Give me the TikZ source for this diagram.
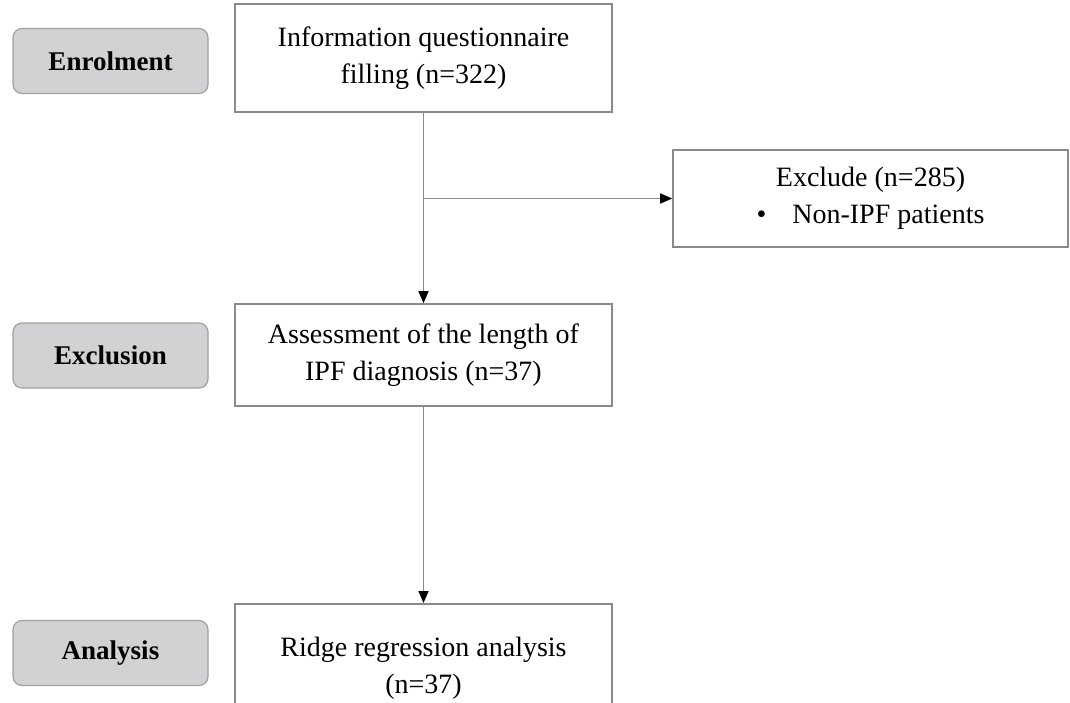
\documentclass[tikz,border=0pt]{standalone}
\usepackage{fontspec}
\setmainfont{Liberation Serif}
\usetikzlibrary{arrows.meta}
\definecolor{edgegray}{HTML}{8A8A8A}
\definecolor{stagefill}{HTML}{D2D1D3}
\tikzset{
  flowbox/.style={draw=edgegray, line width=1.6pt, fill=white, align=center,
    minimum width=377pt, inner sep=0pt, font=\fontsize{28}{37}\selectfont},
  stagebox/.style={draw=edgegray!80, line width=1.2pt, fill=stagefill, rounded corners=9pt,
    minimum width=195pt, minimum height=65pt, inner sep=0pt,
    font=\fontsize{27}{30}\selectfont\bfseries},
  arr/.style={-{Triangle[length=12pt,width=10pt,color=black]}, line width=1.6pt, draw=edgegray},
}
\begin{document}
\begin{tikzpicture}[x=1pt, y=-1pt]
  \useasboundingbox (0,0) rectangle (1070,702);
  % stages on the left
  \node[stagebox] (enrol) at (110.5,61) {Enrolment};
  \node[stagebox] (exclusion) at (110.5,355.5) {Exclusion};
  \node[stagebox] (analysis) at (110.5,653) {Analysis};
  % main flow
  \node[flowbox, minimum height=108pt] (info) at (423.5,58) {Information questionnaire\\filling (n=322)};
  \node[flowbox, minimum width=395pt, minimum height=97pt] (excl) at (870.5,198.5) {Exclude (n=285)\\\textbullet\hspace{26pt}Non-IPF patients};
  \node[flowbox, minimum height=102pt] (assess) at (423.5,355) {Assessment of the length of\\IPF diagnosis (n=37)};
  \node[flowbox, minimum height=128pt, anchor=north] (ridge) at (423.5,603) {Ridge regression analysis\\(n=37)};
  \coordinate (branch) at (info.south |- excl.west);
  \draw[arr] (info.south) -- (assess.north);
  \draw[arr] (branch) -- (excl.west);
  \draw[arr] (assess.south) -- (ridge.north);
\end{tikzpicture}
\end{document}
